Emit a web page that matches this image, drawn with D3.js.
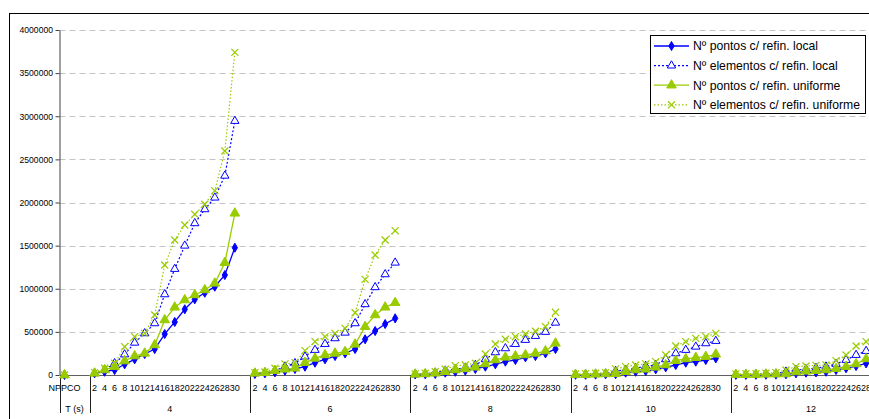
<!DOCTYPE html>
<html>
<head>
<meta charset="utf-8">
<script src="https://cdn.jsdelivr.net/npm/d3@7"></script>
<style>
  html, body { margin:0; padding:0; background:#fff; overflow:hidden; }
  svg { display:block; font-family: Arial, "Liberation Sans", sans-serif; }
</style>
</head>
<body>
<svg id="chart" width="869" height="419"></svg>
<script>
// categories (two level axis)
const firstLabel = "NPPCO";
const firstGroup = "T (s)";
const timeGroups = ["4", "6", "8", "10", "12"];
const steps = ["2","4","6","8","10","12","14","16","18","20","22","24","26","28","30"];
const yTicks = [0, 500000, 1000000, 1500000, 2000000, 2500000, 3000000, 3500000, 4000000];

// value at the NPPCO category (same for every series)
const nppcoValue = 0;

// one row per time group (4, 6, 8, 10, 12)
const pontosLocal = [
  [19700, 38000, 58000, 124000, 182000, 243000, 301000, 475000, 615000, 762000, 878000, 954000, 1024000, 1159000, 1476000],
  [11600, 19700, 31000, 50000, 70000, 97000, 143000, 182000, 220000, 251000, 301000, 414000, 510000, 591000, 657000],
  [6000, 8000, 12000, 27000, 38000, 50000, 70000, 97000, 124000, 155000, 174000, 205000, 220000, 251000, 301000],
  [3000, 3000, 5000, 8000, 10000, 27000, 38000, 46000, 66000, 89000, 116000, 143000, 155000, 174000, 193000],
  [2000, 2000, 3000, 3000, 5000, 8000, 19700, 27000, 30000, 38000, 58000, 78000, 104000, 135000, 160000]
];
const elementosLocal = [
  [19700, 58000, 135000, 238000, 374000, 483000, 599000, 935000, 1229000, 1499000, 1759000, 1921000, 2056000, 2310000, 2945000],
  [19700, 27000, 50000, 97000, 136000, 213000, 290000, 359000, 425000, 490000, 599000, 820000, 1017000, 1167000, 1302000],
  [8000, 12000, 27000, 50000, 66000, 85000, 116000, 182000, 263000, 309000, 359000, 406000, 452000, 499000, 606000],
  [4000, 5000, 12000, 15000, 46000, 58000, 78000, 104000, 116000, 182000, 251000, 290000, 328000, 367000, 394000],
  [4000, 5000, 8000, 12000, 15000, 38000, 58000, 66000, 80000, 97000, 128000, 174000, 232000, 278000, 300000]
];
const pontosUniforme = [
  [19700, 58000, 97000, 162000, 220000, 251000, 348000, 638000, 785000, 870000, 928000, 986000, 1063000, 1302000, 1875000],
  [19700, 27000, 50000, 66000, 78000, 143000, 193000, 232000, 251000, 270000, 356000, 560000, 696000, 785000, 838000],
  [8000, 12000, 19700, 38000, 58000, 70000, 89000, 128000, 174000, 205000, 220000, 232000, 251000, 278000, 367000],
  [4000, 4000, 8000, 12000, 15000, 38000, 58000, 66000, 89000, 116000, 166000, 186000, 201000, 213000, 240000],
  [4000, 4000, 5000, 8000, 9000, 12000, 35000, 43000, 50000, 58000, 73000, 97000, 128000, 186000, 210000]
];
const elementosUniforme = [
  [27000, 78000, 136000, 328000, 444000, 483000, 696000, 1275000, 1565000, 1739000, 1863000, 1980000, 2137000, 2597000, 3741000],
  [27000, 35000, 78000, 128000, 143000, 282000, 386000, 444000, 483000, 541000, 722000, 1109000, 1391000, 1565000, 1673000],
  [12000, 20000, 38000, 66000, 108000, 116000, 136000, 243000, 359000, 414000, 444000, 475000, 507000, 560000, 727000],
  [12000, 15000, 20000, 27000, 70000, 97000, 116000, 128000, 155000, 232000, 336000, 386000, 425000, 444000, 483000],
  [12000, 15000, 15000, 20000, 27000, 58000, 97000, 104000, 112000, 116000, 166000, 232000, 336000, 386000, 420000]
];

const blue = "#0000ff", green = "#99cc00";
const series = [
  {name: "Nº pontos c/ refin. local", data: pontosLocal, color: blue, dash: null, width: 1.3,
   symbol: d3.symbolDiamond, size: 24, fill: blue},
  {name: "Nº elementos c/ refin. local", data: elementosLocal, color: blue, dash: "2,2", width: 1.2,
   symbol: d3.symbolTriangle, size: 30, fill: "#fff"},
  {name: "Nº pontos c/ refin. uniforme", data: pontosUniforme, color: green, dash: null, width: 1.3,
   symbol: d3.symbolTriangle, size: 40, fill: green},
  {name: "Nº elementos c/ refin. uniforme", data: elementosUniforme, color: green, dash: "1.5,2", width: 1.2,
   symbol: d3.symbolX, size: 34, fill: "none"}
];

// build category keys: NPPCO + 2 blanks, then 15 steps + 1 blank per group
const cats = [
  {key: "n0", label: firstLabel, group: firstGroup},
  {key: "n1", label: "", group: firstGroup},
  {key: "n2", label: "", group: firstGroup}
];
timeGroups.forEach(g => {
  steps.forEach(s => cats.push({key: g + "-" + s, label: s, group: g}));
  cats.push({key: g + "-b", label: "", group: g});
});

const svg = d3.select("#chart");
const plotLeft = 59.5, plotTop = 30, plotBottom = 375, band = 10.02;

const x = d3.scaleBand().domain(cats.map(c => c.key)).range([plotLeft, plotLeft + cats.length * band]);
const y = d3.scaleLinear().domain([0, 4000000]).range([plotBottom, plotTop]);
const cx = k => x(k) + x.bandwidth() / 2;

// chart frame
svg.append("rect").attr("x", 9.5).attr("y", 13.5).attr("width", 1000).attr("height", 600)
  .attr("fill", "#fff").attr("stroke", "#000").attr("stroke-width", 1);

// gridlines
svg.append("g").selectAll("line")
  .data(yTicks.filter(d => d > 0))
  .join("line")
    .attr("x1", plotLeft).attr("x2", 900)
    .attr("y1", d => Math.round(y(d)) + 0.5).attr("y2", d => Math.round(y(d)) + 0.5)
    .attr("stroke", "#c4c4c4").attr("stroke-dasharray", "6,4");

// y axis
const yAxis = svg.append("g").attr("transform", `translate(${plotLeft},0)`)
  .call(d3.axisLeft(y).tickValues(yTicks).tickSize(4).tickSizeOuter(0).tickPadding(2.5).tickFormat(d3.format("d")));
yAxis.select(".domain").attr("stroke", "#404040");
yAxis.selectAll(".tick line").attr("stroke", "#404040");
yAxis.selectAll("text").attr("font-size", "8.6px").attr("fill", "#000").attr("font-family", "Arial, 'Liberation Sans', sans-serif");

// x axis (inner level)
const xAxis = svg.append("g").attr("transform", `translate(0,${plotBottom})`)
  .call(d3.axisBottom(x).tickSize(0).tickPadding(9.5).tickSizeOuter(0)
    .tickFormat(k => cats.find(c => c.key === k).label));
xAxis.select(".domain").attr("stroke", "#606060").attr("stroke-width", 1.2);
xAxis.selectAll("text").attr("font-size", "9px").attr("fill", "#000").attr("font-family", "Arial, 'Liberation Sans', sans-serif");

// outer level: separators and group labels
const groupNames = [firstGroup].concat(timeGroups);
const spans = groupNames.map(g => {
  const ks = cats.filter(c => c.group === g).map(c => c.key);
  return {g, x0: x(ks[0]), x1: x(ks[ks.length - 1]) + x.bandwidth()};
});
svg.append("g").selectAll("line")
  .data(spans.map(s => s.x0).concat([spans[spans.length - 1].x1]))
  .join("line")
    .attr("x1", d => Math.round(d) + 0.5).attr("x2", d => Math.round(d) + 0.5)
    .attr("y1", plotBottom).attr("y2", 413)
    .attr("stroke", "#202020");
svg.append("g").selectAll("text")
  .data(spans)
  .join("text")
    .attr("x", d => (d.x0 + d.x1) / 2).attr("y", 411.5)
    .attr("text-anchor", "middle").attr("font-size", "9px")
    .text(d => d.g);

// series
const line = d3.line().x(d => cx(d.key)).y(d => y(d.v));
const plot = svg.append("g");
series.forEach(s => {
  const g = plot.append("g");
  const groups = timeGroups.map((tg, gi) => steps.map((st, i) => ({key: tg + "-" + st, v: s.data[gi][i]})));
  groups.forEach(pts => {
    g.append("path").attr("d", line(pts)).attr("fill", "none")
      .attr("stroke", s.color).attr("stroke-width", s.width)
      .attr("stroke-dasharray", s.dash);
  });
  const allPts = [{key: "n0", v: nppcoValue}].concat(...groups);
  g.selectAll("path.mk").data(allPts).join("path").attr("class", "mk")
    .attr("transform", d => `translate(${cx(d.key)},${y(d.v)})`)
    .attr("d", d3.symbol(s.symbol, s.size))
    .attr("fill", s.fill).attr("stroke", s.color).attr("stroke-width", s.symbol === d3.symbolX ? 1.2 : 1);
});

// legend
const lg = svg.append("g");
lg.append("rect").attr("x", 650.5).attr("y", 35.5).attr("width", 215).attr("height", 78)
  .attr("fill", "#fff").attr("stroke", "#000");
series.forEach((s, i) => {
  const yy = 46 + i * 19.6;
  lg.append("line").attr("x1", 654).attr("x2", 689).attr("y1", yy).attr("y2", yy)
    .attr("stroke", s.color).attr("stroke-width", s.width).attr("stroke-dasharray", s.dash);
  lg.append("path").attr("transform", `translate(671.5,${yy})`)
    .attr("d", d3.symbol(s.symbol, s.size))
    .attr("fill", s.fill).attr("stroke", s.color).attr("stroke-width", s.symbol === d3.symbolX ? 1.2 : 1);
  lg.append("text").attr("x", 693).attr("y", yy + 4.3).attr("font-size", "12.2px").text(s.name);
});
</script>
</body>
</html>
